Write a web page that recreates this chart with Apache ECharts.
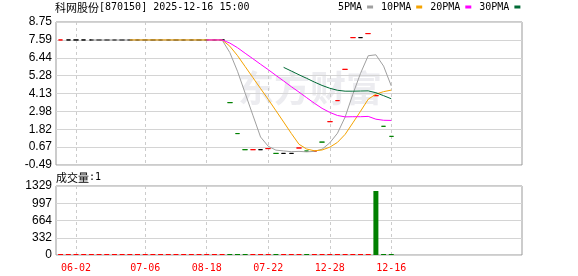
<!DOCTYPE html>
<html><head><meta charset="utf-8">
<script src="https://cdn.jsdelivr.net/npm/echarts@6/dist/echarts.min.js"></script>
<style>html,body{margin:0;padding:0;background:#fff}#c{width:578px;height:276px}</style>
</head><body><div id="c"></div>
<script>
// ---------- data ----------
const xTickIndex  = [2, 11, 19, 27, 35, 43];
const xTickLabels = ['06-02', '07-06', '08-18', '07-22', '12-28', '12-16'];

// flat candles: open = high = low = close
const closes = [
  7.59, 7.59, 7.59, 7.59, 7.59, 7.59, 7.59, 7.59, 7.59, 7.59,
  7.59, 7.59, 7.59, 7.59, 7.59, 7.59, 7.59, 7.59, 7.59, 7.59,
  7.59, 7.59, 3.54, 1.54, 0.50, 0.50, 0.50, 0.57, 0.26, 0.26,
  0.26, 0.61, 0.41, 0.40, 0.99, 2.31, 3.67, 5.69, 7.74, 7.74,
  8.00, 3.99, 2.01, 1.36
];
// 1 = up (red), -1 = down (green), 0 = unchanged (black)
const candleDir = [
  1, 0, 0, 0, 0, 0, 0, 0, 0, 0,
  0, 0, 0, 0, 0, 0, 0, 0, 0, 0,
  0, 0, -1, -1, -1, 1, 0, 1, -1, 0,
  0, 1, -1, 1, -1, 1, 1, 1, 1, 0,
  1, 1, -1, -1
];
const volumes = [
  1, 1, 1, 1, 1, 1, 1, 1, 1, 1,
  1, 1, 1, 1, 1, 1, 1, 1, 1, 1,
  1, 1, 1, 1, 1, 1, 1, 1, 1, 1,
  1, 1, 1, 1, 1, 1, 1, 1, 1, 1,
  1, 1233, 1, 1
];
const volumeDir = [
  1, 1, 1, 1, 1, 1, 1, 1, 1, 1,
  1, 1, 1, 1, 1, 1, 1, 1, 1, 1,
  1, 1, -1, -1, -1, 1, 1, 1, -1, 1,
  1, 1, -1, 1, 1, 1, 1, 1, 1, 1,
  1, -1, -1, -1
];
const ma5 = [
  null, null, null, null, 7.59, 7.59, 7.59, 7.59, 7.59, 7.59,
  7.59, 7.59, 7.59, 7.59, 7.59, 7.59, 7.59, 7.59, 7.59, 7.59,
  7.59, 7.59, 6.78, 5.57, 4.15, 2.73, 1.32, 0.72, 0.47, 0.42,
  0.37, 0.39, 0.36, 0.39, 0.53, 0.94, 1.56, 2.61, 4.08, 5.43,
  6.57, 6.63, 5.90, 4.62
];
const ma10 = [
  null, null, null, null, null, null, null, null, null, 7.59,
  7.59, 7.59, 7.59, 7.59, 7.59, 7.59, 7.59, 7.59, 7.59, 7.59,
  7.59, 7.59, 7.19, 6.58, 5.87, 5.16, 4.45, 3.75, 3.02, 2.29,
  1.55, 0.85, 0.54, 0.43, 0.48, 0.66, 0.97, 1.49, 2.23, 2.98,
  3.76, 4.09, 4.25, 4.35
];
const ma20 = [
  null, null, null, null, null, null, null, null, null, null,
  null, null, null, null, null, null, null, null, null, 7.59,
  7.59, 7.59, 7.39, 7.09, 6.73, 6.38, 6.02, 5.67, 5.30, 4.94,
  4.57, 4.22, 3.86, 3.50, 3.17, 2.91, 2.71, 2.62, 2.63, 2.63,
  2.65, 2.47, 2.40, 2.39
];
const ma30 = [
  null, null, null, null, null, null, null, null, null, null,
  null, null, null, null, null, null, null, null, null, null,
  null, null, null, null, null, null, null, null, null, 5.82,
  5.58, 5.34, 5.11, 4.87, 4.65, 4.47, 4.34, 4.28, 4.28, 4.29,
  4.30, 4.18, 3.99, 3.79
];
const priceTickLabels  = ['-0.49', '0.67', '1.82', '2.98', '4.13', '5.28', '6.44', '7.59', '8.75'];
const volumeTickLabels = ['0', '332', '664', '997', '1329'];
const maNames = ['5PMA', '10PMA', '20PMA', '30PMA'];

// ---------- chart ----------
const chart = echarts.init(document.getElementById('c'), null, { renderer: 'canvas' });
const COL = { up: '#ff0000', down: '#008000', flat: '#000000' };
const dirColor = d => d > 0 ? COL.up : (d < 0 ? COL.down : COL.flat);

const candleData = closes.map((c, i) => {
  const col = dirColor(candleDir[i]);
  return { value: [i, c, c, c, c],
    itemStyle: { color: col, color0: col, borderColor: col, borderColor0: col, borderColorDoji: col } };
});
const volData = volumes.map((v, i) => ({ value: [i, v], itemStyle: { color: volumeDir[i] > 0 ? COL.up : COL.down } }));
const lineData = arr => { const out = []; arr.forEach((v, i) => { if (v != null) out.push([i, v]); }); return out; };

const X_MIN = -0.6, X_MAX = 60;
const P_MIN = -0.49, P_MAX = 8.75, P_INT = 1.155;
const V_MAX = 1329, V_INT = 332.25;
const MONO = 'DejaVu Sans Mono';
const gridLineColor = '#d4d4d4';

const xAxisBase = (gridIndex, showLabel) => ({
  type: 'value', gridIndex, min: X_MIN, max: X_MAX,
  axisLine: { show: false },
  axisTick: { show: false, customValues: xTickIndex },
  splitLine: { show: true, lineStyle: { color: '#cccccc', type: [3, 3], width: 1 } },
  axisLabel: {
    show: showLabel, customValues: xTickIndex, color: '#ff0000', fontFamily: MONO, fontSize: 10, margin: 8,
    formatter: v => { const k = xTickIndex.indexOf(Math.round(v)); return k >= 0 ? xTickLabels[k] : ''; }
  }
});

const maColors = ['#a0a0a0', '#f5a300', '#ff00ff', '#006a35'];
const maSeries = [ma5, ma10, ma20, ma30].map((arr, k) => ({
  name: maNames[k], type: 'line', xAxisIndex: 0, yAxisIndex: 0,
  data: lineData(arr), showSymbol: false, symbol: 'none', color: maColors[k],
  lineStyle: { width: 1, color: maColors[k] }, z: 5 + k, silent: true
}));

const richTitle = {
  c: { fontFamily: 'Noto Sans CJK SC', fontSize: 11, fontWeight: 'normal', color: '#000' },
  a: { fontFamily: MONO, fontSize: 10, fontWeight: 'normal', color: '#000' }
};

const option = {
  animation: false,
  backgroundColor: '#ffffff',
  title: [
    { text: '{c|科网股份}{a|[870150] 2025-12-16 15:00}', left: 55, top: 2, padding: 0,
      textStyle: { fontWeight: 'normal', rich: richTitle } },
    { text: '{c|成交量}{a|:1}', left: 56, top: 172, padding: 0,
      textStyle: { fontWeight: 'normal', rich: richTitle } }
  ],
  legend: {
    data: maNames, left: 338, top: 2, padding: 0, itemGap: 8, itemWidth: 6, itemHeight: 3,
    align: 'right', icon: 'rect', selectedMode: false,
    textStyle: { fontFamily: MONO, fontSize: 10, color: '#000' }
  },
  graphic: [
    { type: 'text', left: 238, top: 70, z: -1, silent: true,
      style: { text: '东方财富', fontSize: 36, fontWeight: 'bold', fontFamily: 'Noto Sans CJK SC', fill: '#ececf0' } }
  ],
  grid: [
    { left: 56, top: 22, width: 466, height: 143, show: true, borderColor: '#999', borderWidth: 1, backgroundColor: 'transparent', outerBoundsMode: 'none' },
    { left: 56, top: 186, width: 466, height: 69, show: true, borderColor: '#999', borderWidth: 1, backgroundColor: 'transparent', outerBoundsMode: 'none' }
  ],
  xAxis: [ xAxisBase(0, false), xAxisBase(1, true) ],
  yAxis: [
    { type: 'value', gridIndex: 0, min: P_MIN, max: P_MAX, interval: P_INT, scale: true,
      axisLine: { show: false }, axisTick: { show: false },
      splitLine: { lineStyle: { color: gridLineColor, width: 1 } },
      axisLabel: { color: '#000', fontFamily: 'Liberation Sans', fontSize: 12, margin: 4,
        formatter: v => priceTickLabels[Math.round((v - P_MIN) / P_INT)] || '' } },
    { type: 'value', gridIndex: 1, min: 0, max: V_MAX, interval: V_INT,
      axisLine: { show: false }, axisTick: { show: false },
      splitLine: { lineStyle: { color: gridLineColor, width: 1 } },
      axisLabel: { color: '#000', fontFamily: 'Liberation Sans', fontSize: 12, margin: 4,
        formatter: v => volumeTickLabels[Math.round(v / V_INT)] || '' } }
  ],
  series: [
    { name: 'K', type: 'candlestick', xAxisIndex: 0, yAxisIndex: 0, data: candleData,
      barWidth: 5, z: 3, silent: true,
      itemStyle: { borderWidth: 1 } },
    ...maSeries,
    { name: 'VOL', type: 'bar', xAxisIndex: 1, yAxisIndex: 1, data: volData,
      barWidth: 5, barMinHeight: 1, silent: true }
  ]
};
chart.setOption(option);
</script>
</body></html>
